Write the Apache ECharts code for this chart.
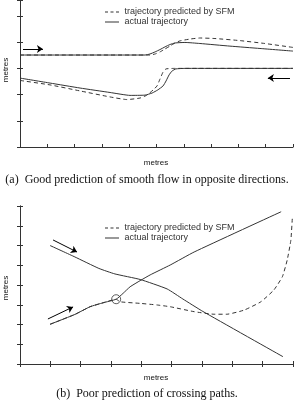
<!DOCTYPE html>
<html><head><meta charset="utf-8">
<script src="https://cdn.jsdelivr.net/npm/echarts@6/dist/echarts.min.js"></script>
<style>html,body{margin:0;padding:0;background:#fff}#c{width:294px;height:402px}</style>
</head><body><div id="c"></div>
<script>
const legendNames = ['trajectory predicted by SFM', 'actual trajectory'];
const axisName = 'metres';
const captionA = '(a)  Good prediction of smooth flow in opposite directions.';
const captionB = '(b)  Poor prediction of crossing paths.';

// (a) smooth flow
const aUpperSFM = [[0,3.51],[4.76,3.51],[4.95,3.55],[5.13,3.63],[5.31,3.74],[5.49,3.85],[5.68,3.97],[5.86,4.05],[6.23,4.12],[6.59,4.16],[7.14,4.14],[8.06,4.06],[8.97,3.95],[10,3.80]];
const aUpperActual = [[0,3.51],[4.58,3.51],[4.76,3.55],[4.95,3.63],[5.13,3.72],[5.31,3.82],[5.49,3.91],[5.68,3.97],[6.04,3.99],[6.59,3.95],[7.69,3.85],[8.79,3.76],[10,3.66]];
const aLowerSFM = [[0,2.54],[1.10,2.37],[2.20,2.14],[3.30,1.91],[3.92,1.81],[4.40,1.87],[4.65,1.98],[4.88,2.18],[5.02,2.33],[5.13,2.60],[5.24,2.86],[5.35,2.98],[5.68,3.00],[10,3.00]];
const aLowerActual = [[0,2.63],[1.10,2.44],[2.20,2.25],[3.30,2.08],[4.03,1.97],[4.58,1.98],[4.84,2.06],[5.05,2.18],[5.24,2.33],[5.35,2.52],[5.46,2.75],[5.57,2.90],[5.71,2.98],[6.04,3.00],[10,3.00]];
const aArrows = [[[0.11,3.74],[0.84,3.74]], [[9.89,2.63],[9.08,2.63]]];

// (b) crossing paths
const bActualDown = [[0.99,6.00],[1.81,5.42],[2.60,4.84],[3.13,4.56],[3.96,4.28],[4.85,3.80],[5.37,3.29],[6.03,2.66],[8.67,0.37]];
const bActualUp = [[0.99,2.01],[1.81,2.51],[2.31,2.90],[2.74,3.10],[3.17,3.28],[3.40,3.58],[3.63,3.91],[3.96,4.22],[4.29,4.51],[4.95,5.01],[5.74,5.67],[8.61,7.71]];
const bSFM = [[0.99,2.01],[1.81,2.51],[2.31,2.90],[2.74,3.10],[3.17,3.28],[3.30,3.15],[3.96,3.07],[4.51,2.99],[4.95,2.90],[5.74,2.65],[6.40,2.52],[6.82,2.52],[7.39,2.73],[7.94,3.15],[8.37,3.75],[8.65,4.42],[8.81,5.27],[8.93,6.28],[8.98,7.46]];
const bArrows = [[[1.09,6.28],[1.88,5.67]], [[0.92,2.28],[1.75,2.89]]];
const bDivergence = [[3.17,3.28]];

const ink = '#333';
const font = 'Liberation Sans, Arial, sans-serif';

function axesFor(gi, xmax, ymax) {
  const common = {
    gridIndex: gi, type: 'value', min: 0, interval: 1,
    axisLine: {show: true, lineStyle: {color: ink, width: 1}},
    axisTick: {show: true, inside: true, length: 3, lineStyle: {color: ink}},
    axisLabel: {show: false}, splitLine: {show: false}
  };
  return {
    x: [Object.assign({}, common, {max: xmax, position: 'bottom'}),
        Object.assign({}, common, {max: xmax, position: 'top'})],
    y: [Object.assign({}, common, {max: ymax, position: 'left'}),
        Object.assign({}, common, {max: ymax, position: 'right'})]
  };
}
const ga = axesFor(0, 10, 5.61), gb = axesFor(1, 9, 8);

function lineS(name, data, dashed, xi, yi) {
  return {name, type: 'line', data, xAxisIndex: xi, yAxisIndex: yi, symbol: 'none', showSymbol: false,
    smooth: 0.15, silent: true, animation: false,
    lineStyle: {color: ink, width: 1, type: dashed ? [4, 3] : 'solid'}, itemStyle: {color: ink}};
}
function arrowS(data, xi, yi) {
  return {type: 'lines', coordinateSystem: 'cartesian2d', xAxisIndex: xi, yAxisIndex: yi,
    data: data.map(c => ({coords: c})), symbol: ['none', 'arrow'], symbolSize: 6,
    lineStyle: {color: '#000', width: 1, opacity: 1}, silent: true, animation: false};
}
const dashIcon = 'path://M0,0H3V1H0Z M5.5,0H8.5V1H5.5Z M11,0H14V1H11Z';
const solidIcon = 'path://M0,0H14V1H0Z';
function legendAt(top) {
  return {data: [{name: legendNames[0], icon: dashIcon}, {name: legendNames[1], icon: solidIcon}],
    orient: 'vertical', left: 100, top, itemWidth: 15, itemHeight: 1, itemGap: 0,
    itemStyle: {color: ink, borderWidth: 0},
    textStyle: {fontFamily: font, fontSize: 9, color: ink, lineHeight: 10}, selectedMode: false};
}
function txt(x, y, t, opts, rot) {
  const g = {type: 'text', x, y, style: Object.assign({text: t, fill: '#111', align: 'center', verticalAlign: 'middle', font: '8px ' + font}, opts || {})};
  if (rot) g.rotation = rot;
  return g;
}

const chart = echarts.init(document.getElementById('c'), null, {renderer: 'canvas'});
chart.setOption({
  animation: false,
  grid: [
    {left: 20, right: 1, top: 0, height: 147},
    {left: 20, right: 1, top: 206, height: 158}
  ],
  xAxis: [ga.x[0], Object.assign({}, ga.x[1], {show: false}), gb.x[0], gb.x[1]],
  yAxis: [ga.y[0], ga.y[1], gb.y[0], gb.y[1]],
  legend: [legendAt(2), legendAt(218)],
  series: [
    lineS(legendNames[0], aUpperSFM, true, 0, 0),
    lineS(legendNames[1], aUpperActual, false, 0, 0),
    lineS(legendNames[0], aLowerSFM, true, 0, 0),
    lineS(legendNames[1], aLowerActual, false, 0, 0),
    arrowS(aArrows, 0, 0),
    lineS(legendNames[0], bSFM, true, 2, 2),
    lineS(legendNames[1], bActualDown, false, 2, 2),
    lineS(legendNames[1], bActualUp, false, 2, 2),
    arrowS(bArrows, 2, 2),
    {type: 'scatter', xAxisIndex: 2, yAxisIndex: 2, data: bDivergence, symbol: 'circle', symbolSize: 9,
      itemStyle: {color: 'rgba(0,0,0,0)', borderColor: ink, borderWidth: 1}, silent: true}
  ],
  graphic: [
    txt(156, 163, axisName),
    txt(156, 378, axisName),
    txt(6, 70, axisName, {}, Math.PI / 2),
    txt(6, 288, axisName, {}, Math.PI / 2),
    txt(147, 180, captionA, {font: '12px Liberation Serif, Times New Roman, serif'}),
    txt(147, 394, captionB, {font: '12px Liberation Serif, Times New Roman, serif'})
  ]
});
</script></body></html>
